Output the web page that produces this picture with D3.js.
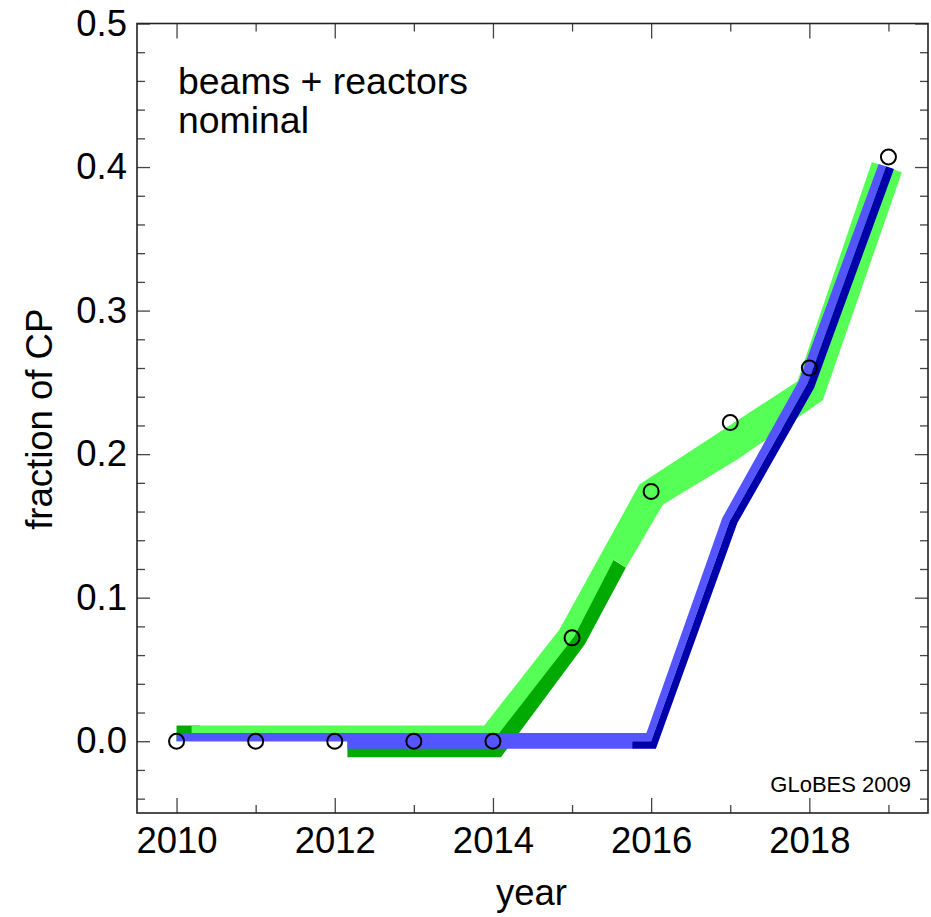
<!DOCTYPE html>
<html>
<head>
<meta charset="utf-8">
<script src="https://cdn.jsdelivr.net/npm/d3@7"></script>
<style>
  html, body { margin: 0; padding: 0; background: #fff; }
  svg { display: block; }
  text { font-family: "Liberation Sans", Arial, Helvetica, sans-serif; fill: #000; }
</style>
</head>
<body>
<svg id="chart" width="931" height="917"></svg>
<script>
// Fraction of CP values reached per year (open circles)
const years = [2010, 2011, 2012, 2013, 2014, 2015, 2016, 2017, 2018, 2019];
const cpFraction = [0, 0, 0, 0, 0, 0.072, 0.174, 0.222, 0.260, 0.407];

// Band outlines as [year, fraction] vertices
const greenDarkBand = [
  [2010.00, 0.0110], [2010.30, 0.0110], [2010.30, 0.0040], [2014.00, 0.0040],
  [2014.98, 0.0732], [2015.50, 0.1272], [2015.68, 0.1208], [2015.16, 0.0674],
  [2014.10, -0.0112], [2012.16, -0.0112], [2012.16, 0.0000], [2010.00, 0.0000]
];
const greenLightBand = [
  [2010.19, 0.0110], [2013.89, 0.0110], [2014.84, 0.0778], [2015.85, 0.1788],
  [2017.85, 0.2508], [2018.79, 0.4036], [2019.17, 0.3964], [2018.17, 0.2375],
  [2017.09, 0.1962], [2016.15, 0.1650], [2015.68, 0.1208], [2015.53, 0.1266],
  [2015.03, 0.0732], [2014.08, 0.0058], [2014.00, 0.0000], [2010.19, 0.0000]
];
const blueLightBand = [
  [2010.00, 0.0058], [2015.94, 0.0058], [2016.90, 0.1556], [2017.87, 0.2515],
  [2018.876, 0.4022], [2018.97, 0.4006], [2017.98, 0.2495], [2016.99, 0.1530],
  [2016.00, 0.0000], [2015.76, 0.0000], [2015.76, -0.0053], [2012.16, -0.0053],
  [2012.16, 0.0000], [2010.00, 0.0000]
];
const blueDarkBand = [
  [2015.76, 0.0000], [2016.00, 0.0000], [2016.99, 0.1530], [2017.98, 0.2495],
  [2018.97, 0.4006], [2019.07, 0.3987], [2018.06, 0.2460], [2017.09, 0.1520],
  [2016.06, -0.0053], [2015.76, -0.0053]
];

// Axis ticks
const xMajorTicks = [2010, 2012, 2014, 2016, 2018];
const xMinorTicks = [2011, 2013, 2015, 2017, 2019];
const yMajorTicks = [0.0, 0.1, 0.2, 0.3, 0.4, 0.5];
const yMinorTicks = [-0.04, -0.02, 0.02, 0.04, 0.06, 0.08, 0.12, 0.14, 0.16, 0.18,
                     0.22, 0.24, 0.26, 0.28, 0.32, 0.34, 0.36, 0.38, 0.42, 0.44, 0.46, 0.48];

const xTitle = "year";
const yTitle = "fraction of CP";
const noteLines = ["beams + reactors", "nominal"];
const credit = "GLoBES 2009";

const W = 931, H = 917;
const margin = { left: 137, right: 3, top: 23.5, bottom: 104 };
const plotW = W - margin.left - margin.right;
const plotH = H - margin.top - margin.bottom;

const x = d3.scaleLinear().domain([2009.5, 2019.5]).range([0, plotW]);
const y = d3.scaleLinear().domain([-0.05, 0.5]).range([plotH, 0]);

const svg = d3.select("#chart");
const g = svg.append("g").attr("transform", `translate(${margin.left},${margin.top})`);

const clipId = "plot-clip";
g.append("clipPath").attr("id", clipId)
  .append("rect").attr("width", plotW).attr("height", plotH);

const bandLine = d3.line()
  .x(d => x(d[0]))
  .y(d => y(d[1]))
  .curve(d3.curveLinearClosed);

const bands = g.append("g").attr("clip-path", `url(#${clipId})`);
[
  [greenDarkBand, "#00aa00"],
  [greenLightBand, "#55ff55"],
  [blueLightBand, "#5555ff"],
  [blueDarkBand, "#0000aa"]
].forEach(([pts, col]) => {
  bands.append("path").attr("d", bandLine(pts)).attr("fill", col).attr("stroke", "none");
});

// Open circle markers
g.append("g").selectAll("circle")
  .data(years.map((yr, i) => [yr, cpFraction[i]]))
  .join("circle")
  .attr("cx", d => x(d[0]))
  .attr("cy", d => y(d[1]))
  .attr("r", 7.5)
  .attr("fill", "none")
  .attr("stroke", "#000")
  .attr("stroke-width", 2);

// Ticks (inward, on all four sides)
const tickColor = "#444";
function styleAxis(sel) {
  sel.select(".domain").remove();
  sel.selectAll(".tick line").attr("stroke", tickColor).attr("stroke-width", 1.3);
}
const fontSize = 36.5;

g.append("g").attr("transform", `translate(0,${plotH})`)
  .call(d3.axisBottom(x).tickValues(xMajorTicks).tickSizeInner(-15).tickPadding(14)
    .tickFormat(d3.format("d")))
  .call(styleAxis)
  .call(s => s.selectAll("text").attr("font-size", fontSize).attr("fill", "#000"));
g.append("g").attr("transform", `translate(0,${plotH})`)
  .call(d3.axisBottom(x).tickValues(xMinorTicks).tickSizeInner(-8).tickFormat(""))
  .call(styleAxis);
g.append("g")
  .call(d3.axisTop(x).tickValues(xMajorTicks).tickSizeInner(-15).tickFormat(""))
  .call(styleAxis);
g.append("g")
  .call(d3.axisTop(x).tickValues(xMinorTicks).tickSizeInner(-8).tickFormat(""))
  .call(styleAxis);

g.append("g")
  .call(d3.axisLeft(y).tickValues(yMajorTicks).tickSizeInner(-13).tickPadding(10)
    .tickFormat(d3.format(".1f")))
  .call(styleAxis)
  .call(s => s.selectAll("text").attr("font-size", fontSize).attr("fill", "#000"));
g.append("g")
  .call(d3.axisLeft(y).tickValues(yMinorTicks).tickSizeInner(-8).tickFormat(""))
  .call(styleAxis);
g.append("g").attr("transform", `translate(${plotW},0)`)
  .call(d3.axisRight(y).tickValues(yMajorTicks).tickSizeInner(-13).tickFormat(""))
  .call(styleAxis);
g.append("g").attr("transform", `translate(${plotW},0)`)
  .call(d3.axisRight(y).tickValues(yMinorTicks).tickSizeInner(-8).tickFormat(""))
  .call(styleAxis);

// Frame
g.append("rect")
  .attr("width", plotW).attr("height", plotH)
  .attr("fill", "none").attr("stroke", "#222").attr("stroke-width", 1.6);

// Axis titles
svg.append("text")
  .attr("x", margin.left + plotW / 2 - 1)
  .attr("y", 905)
  .attr("text-anchor", "middle")
  .attr("font-size", fontSize)
  .text(xTitle);

svg.append("text")
  .attr("transform", `translate(52,${margin.top + plotH / 2 + 1}) rotate(-90)`)
  .attr("text-anchor", "middle")
  .attr("font-size", fontSize)
  .text(yTitle);

// Annotation
noteLines.forEach((t, i) => {
  svg.append("text")
    .attr("x", 178)
    .attr("y", 94 + i * 39)
    .attr("font-size", 37.4)
    .text(t);
});

svg.append("text")
  .attr("x", 911)
  .attr("y", 792)
  .attr("text-anchor", "end")
  .attr("font-size", 22)
  .text(credit);
</script>
</body>
</html>
